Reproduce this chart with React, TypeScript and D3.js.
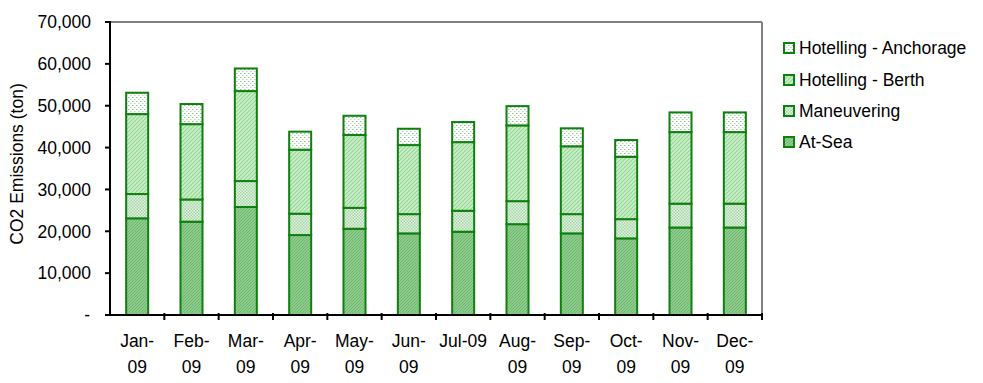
import React from "react";
import * as d3 from "d3";

const months = ["Jan-09", "Feb-09", "Mar-09", "Apr-09", "May-09", "Jun-09", "Jul-09", "Aug-09", "Sep-09", "Oct-09", "Nov-09", "Dec-09"];
const labelLine1 = ["Jan-", "Feb-", "Mar-", "Apr-", "May-", "Jun-", "Jul-09", "Aug-", "Sep-", "Oct-", "Nov-", "Dec-"];
const labelLine2 = ["09", "09", "09", "09", "09", "09", "", "09", "09", "09", "09", "09"];
const atSea = [23100, 22300, 25800, 19100, 20600, 19500, 19900, 21700, 19500, 18300, 20900, 20900];
const maneuvering = [5800, 5300, 6200, 5100, 5000, 4600, 5000, 5500, 4600, 4600, 5700, 5700];
const hotellingBerth = [19100, 18000, 21500, 15300, 17400, 16500, 16400, 18100, 16200, 14900, 17100, 17100];
const hotellingAnchorage = [5100, 4800, 5400, 4300, 4600, 3900, 4800, 4600, 4300, 4000, 4700, 4700];
const yTicks = [0, 10000, 20000, 30000, 40000, 50000, 60000, 70000];
const seriesNames = ["At-Sea", "Maneuvering", "Hotelling - Berth", "Hotelling - Anchorage"];

export default function App() {
  const W = 983, H = 383;
  const left = 110, right = 762, top = 22, bottom = 315;
  const band = (right - left) / months.length;
  const y = d3.scaleLinear().domain([0, 70000]).range([bottom, top]);
  const table = months.map((m, i) => ({
    month: m,
    "At-Sea": atSea[i],
    "Maneuvering": maneuvering[i],
    "Hotelling - Berth": hotellingBerth[i],
    "Hotelling - Anchorage": hotellingAnchorage[i],
  }));
  const stacked = d3.stack<any>().keys(seriesNames)(table);
  const fills = ["url(#pSea)", "url(#pMan)", "url(#pBerth)", "url(#pAnch)"];
  const fmt = d3.format(",");
  const font = "'Liberation Sans', Arial, sans-serif";
  const fs = 17.5;
  const barW = 22;
  const legendOrder = [3, 2, 1, 0];
  const legendY = [48, 80, 111, 142];

  return (
    <svg width={W} height={H} style={{ position: "absolute", left: 0, top: 0 }} fontFamily={font}>
      <defs>
        <pattern id="pSea" width="3" height="3" patternUnits="userSpaceOnUse">
          <rect width="3" height="3" fill="#8ccb8c" />
          <path d="M0,3 L3,0" stroke="#68b468" strokeWidth="0.8" />
        </pattern>
        <pattern id="pMan" width="3" height="3" patternUnits="userSpaceOnUse">
          <rect width="3" height="3" fill="#e2f2e2" />
          <rect width="1.5" height="1.5" fill="#a6d6a6" />
          <rect x="1.5" y="1.5" width="1.5" height="1.5" fill="#a6d6a6" />
        </pattern>
        <pattern id="pBerth" width="4" height="4" patternUnits="userSpaceOnUse">
          <rect width="4" height="4" fill="#cdeecd" />
          <path d="M0,4 L4,0 M-1,1 L1,-1 M3,5 L5,3" stroke="#8fd68f" strokeWidth="1.1" />
        </pattern>
        <pattern id="pAnch" width="4" height="4" patternUnits="userSpaceOnUse">
          <rect width="4" height="4" fill="#ffffff" />
          <rect x="0" y="1" width="1.5" height="1" fill="#8fc88f" />
          <rect x="2" y="3" width="1.5" height="1" fill="#b8dcb8" />
        </pattern>
      </defs>

      {/* plot frame */}
      <line x1={left} y1={top} x2={right} y2={top} stroke="#808080" strokeWidth={2} />
      <line x1={right} y1={top} x2={right} y2={bottom} stroke="#808080" strokeWidth={2} />

      {/* bars */}
      {stacked.map((s, si) => (
        <g key={seriesNames[si]}>
          {s.map((d, i) => {
            const cx = left + band * (i + 0.5);
            return (
              <rect
                key={i}
                x={cx - barW / 2}
                y={y(d[1])}
                width={barW}
                height={y(d[0]) - y(d[1])}
                fill={fills[si]}
                stroke="#0f7f0f"
                strokeWidth={2}
              />
            );
          })}
        </g>
      ))}

      {/* axes */}
      <line x1={left} y1={top - 1} x2={left} y2={bottom + 1} stroke="#000" strokeWidth={2} />
      <line x1={left} y1={bottom} x2={right + 1} y2={bottom} stroke="#000" strokeWidth={2} />
      {yTicks.map((t) => (
        <g key={t}>
          <line x1={left - 5} x2={left} y1={y(t)} y2={y(t)} stroke="#000" strokeWidth={2} />
          <text x={t === 0 ? 90 : 91} y={y(t)} dy="0.36em" textAnchor="end" fontSize={fs} fill="#000">
            {t === 0 ? "-" : fmt(t)}
          </text>
        </g>
      ))}
      {months.map((m, i) => (
        <line key={m} x1={left + band * (i + 1)} x2={left + band * (i + 1)} y1={bottom - 2} y2={bottom + 5} stroke="#000" strokeWidth={2} />
      ))}
      {months.map((m, i) => {
        const cx = left + band * (i + 0.5);
        return (
          <g key={"l" + m}>
            <text x={cx} y={347} textAnchor="middle" fontSize={fs} fill="#000">{labelLine1[i]}</text>
            {labelLine2[i] && (
              <text x={cx} y={373} textAnchor="middle" fontSize={fs} fill="#000">{labelLine2[i]}</text>
            )}
          </g>
        );
      })}
      <text transform={`translate(23,164) rotate(-90)`} textAnchor="middle" fontSize={fs} fill="#000">
        CO2 Emissions (ton)
      </text>

      {/* legend */}
      {legendOrder.map((si, k) => (
        <g key={seriesNames[si]}>
          <rect x={784} y={legendY[k] - 5} width={10} height={10} fill={fills[si]} stroke="#0f7f0f" strokeWidth={2} />
          <text x={799} y={legendY[k]} dy="0.36em" fontSize={fs} fill="#000">{seriesNames[si]}</text>
        </g>
      ))}
    </svg>
  );
}
